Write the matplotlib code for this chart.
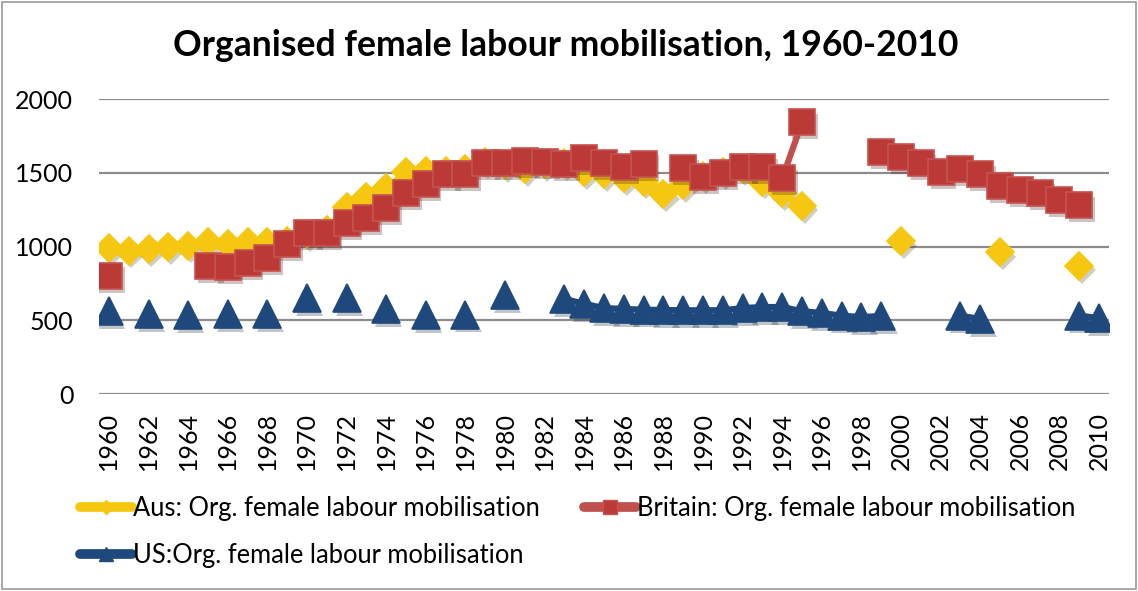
import numpy as np
import matplotlib
matplotlib.use("Agg")
import matplotlib.pyplot as plt
import matplotlib.patheffects as pe
from matplotlib.lines import Line2D
from matplotlib.patches import Rectangle

nan = np.nan
years = list(range(1960, 2011))

# values, nan = no data for that year
aus = [990, 972, 981, 999, 1006, 1029, 1020, 1033, 1029, 1040,
       1085, 1113, 1271, 1334, 1395, 1504, 1515, 1511, 1524, 1576,
       1554, 1526, 1560, 1565, 1508, 1492, 1463, 1441, 1355, 1418,
       1480, 1508, 1530, 1441, 1361, 1275, nan, nan, nan, nan,
       1036, nan, nan, nan, nan, 961, nan, nan, nan, 870, nan]
britain = [803, nan, nan, nan, nan, 870, 864, 887, 925, 1018,
           1094, 1094, 1162, 1196, 1260, 1361, 1425, 1493, 1490, 1565,
           1565, 1583, 1572, 1560, 1599, 1565, 1538, 1560, nan, 1532,
           1475, 1497, 1538, 1538, 1463, 1843, nan, nan, nan, 1645,
           1610, 1565, 1508, 1524, 1490, 1411, 1384, 1366, 1316, 1280, nan]
us = [561, nan, 544, nan, 534, nan, 542, nan, 542, nan,
      652, nan, 652, nan, 574, nan, 536, nan, 538, nan,
      670, nan, nan, 645, 612, 583, 577, 572, 570, 568,
      568, 568, 583, 590, 590, 561, 550, 531, 522, 529,
      nan, nan, nan, 531, 509, nan, nan, nan, nan, 531, 516]

labels = ["Aus: Org. female labour mobilisation",
          "Britain: Org. female labour mobilisation",
          "US:Org. female labour mobilisation"]
title = "Organised female labour mobilisation, 1960-2010"

plt.rcParams['font.family'] = ['Lato', 'DejaVu Sans']

fig = plt.figure(figsize=(11.38, 5.91), dpi=100)
ax = fig.add_axes([99/1138, 1 - 394/591, 1010/1138, (394 - 99.3)/591])

x = np.arange(len(years))
series = [
    (aus, 'D', 13.8, '#F5C710', '#F5C710', '#F5C710'),
    (britain, 's', 18.5, '#BC3A36', '#C65350', '#C0504D'),
    (us, '^', 19.5, '#1F497D', '#1F497D', '#1F497D'),
]

handles = []
for i, (vals, mk, ms, face, edge, lcol) in enumerate(series):
    y = np.array(vals, dtype=float)
    # shadow under the markers
    ax.plot(x, y, ls='none', marker=mk, ms=ms, mfc=face, mec=face,
            zorder=2 + i * 2,
            path_effects=[pe.SimplePatchShadow(offset=(2, -3), alpha=0.25, rho=0.3)])
    ax.plot(x, y, color=lcol, lw=4.5, solid_capstyle='round',
            marker=mk, ms=ms, mfc=face, mec=edge, mew=1.2, zorder=3 + i * 2)
    handles.append(Line2D([], [], color=lcol, lw=7, solid_capstyle='round',
                          marker=mk, ms=ms * 0.55, mfc=face, mec=edge))

ax.set_xlim(-0.5, len(years) - 0.5)
ax.set_ylim(0, 2000)
ax.set_yticks(range(0, 2001, 500))
ax.set_xticks(x[::2])
ax.set_xticklabels([str(v) for v in years[::2]], rotation=90)
ax.tick_params(axis='both', length=0, labelsize=18)
ax.tick_params(axis='y', pad=18.5)
ax.tick_params(axis='x', pad=13)
ax.grid(axis='y', color='#8C8C8C', lw=1.6)
ax.set_axisbelow(True)
for s in ax.spines.values():
    s.set_visible(False)

fig.text(566/1138, 1 - 45/591, title, ha='center', va='center',
         fontsize=25.6, fontweight='bold')

order = [0, 2, 1]
fig.legend([handles[k] for k in order], [labels[k] for k in order],
           ncol=2, loc='upper left', bbox_to_anchor=(67/1138, 1 - 483/591),
           frameon=False, fontsize=18.4, handlelength=2.05, handletextpad=0.05,
           columnspacing=1.7, labelspacing=0.88, borderpad=0)

fig.add_artist(Rectangle((2/1138, 2/591), 1134/1138, 587/591,
                         transform=fig.transFigure, fill=False,
                         edgecolor='#9A9A9A', lw=1.2))

fig.savefig('out.png', dpi=100)
